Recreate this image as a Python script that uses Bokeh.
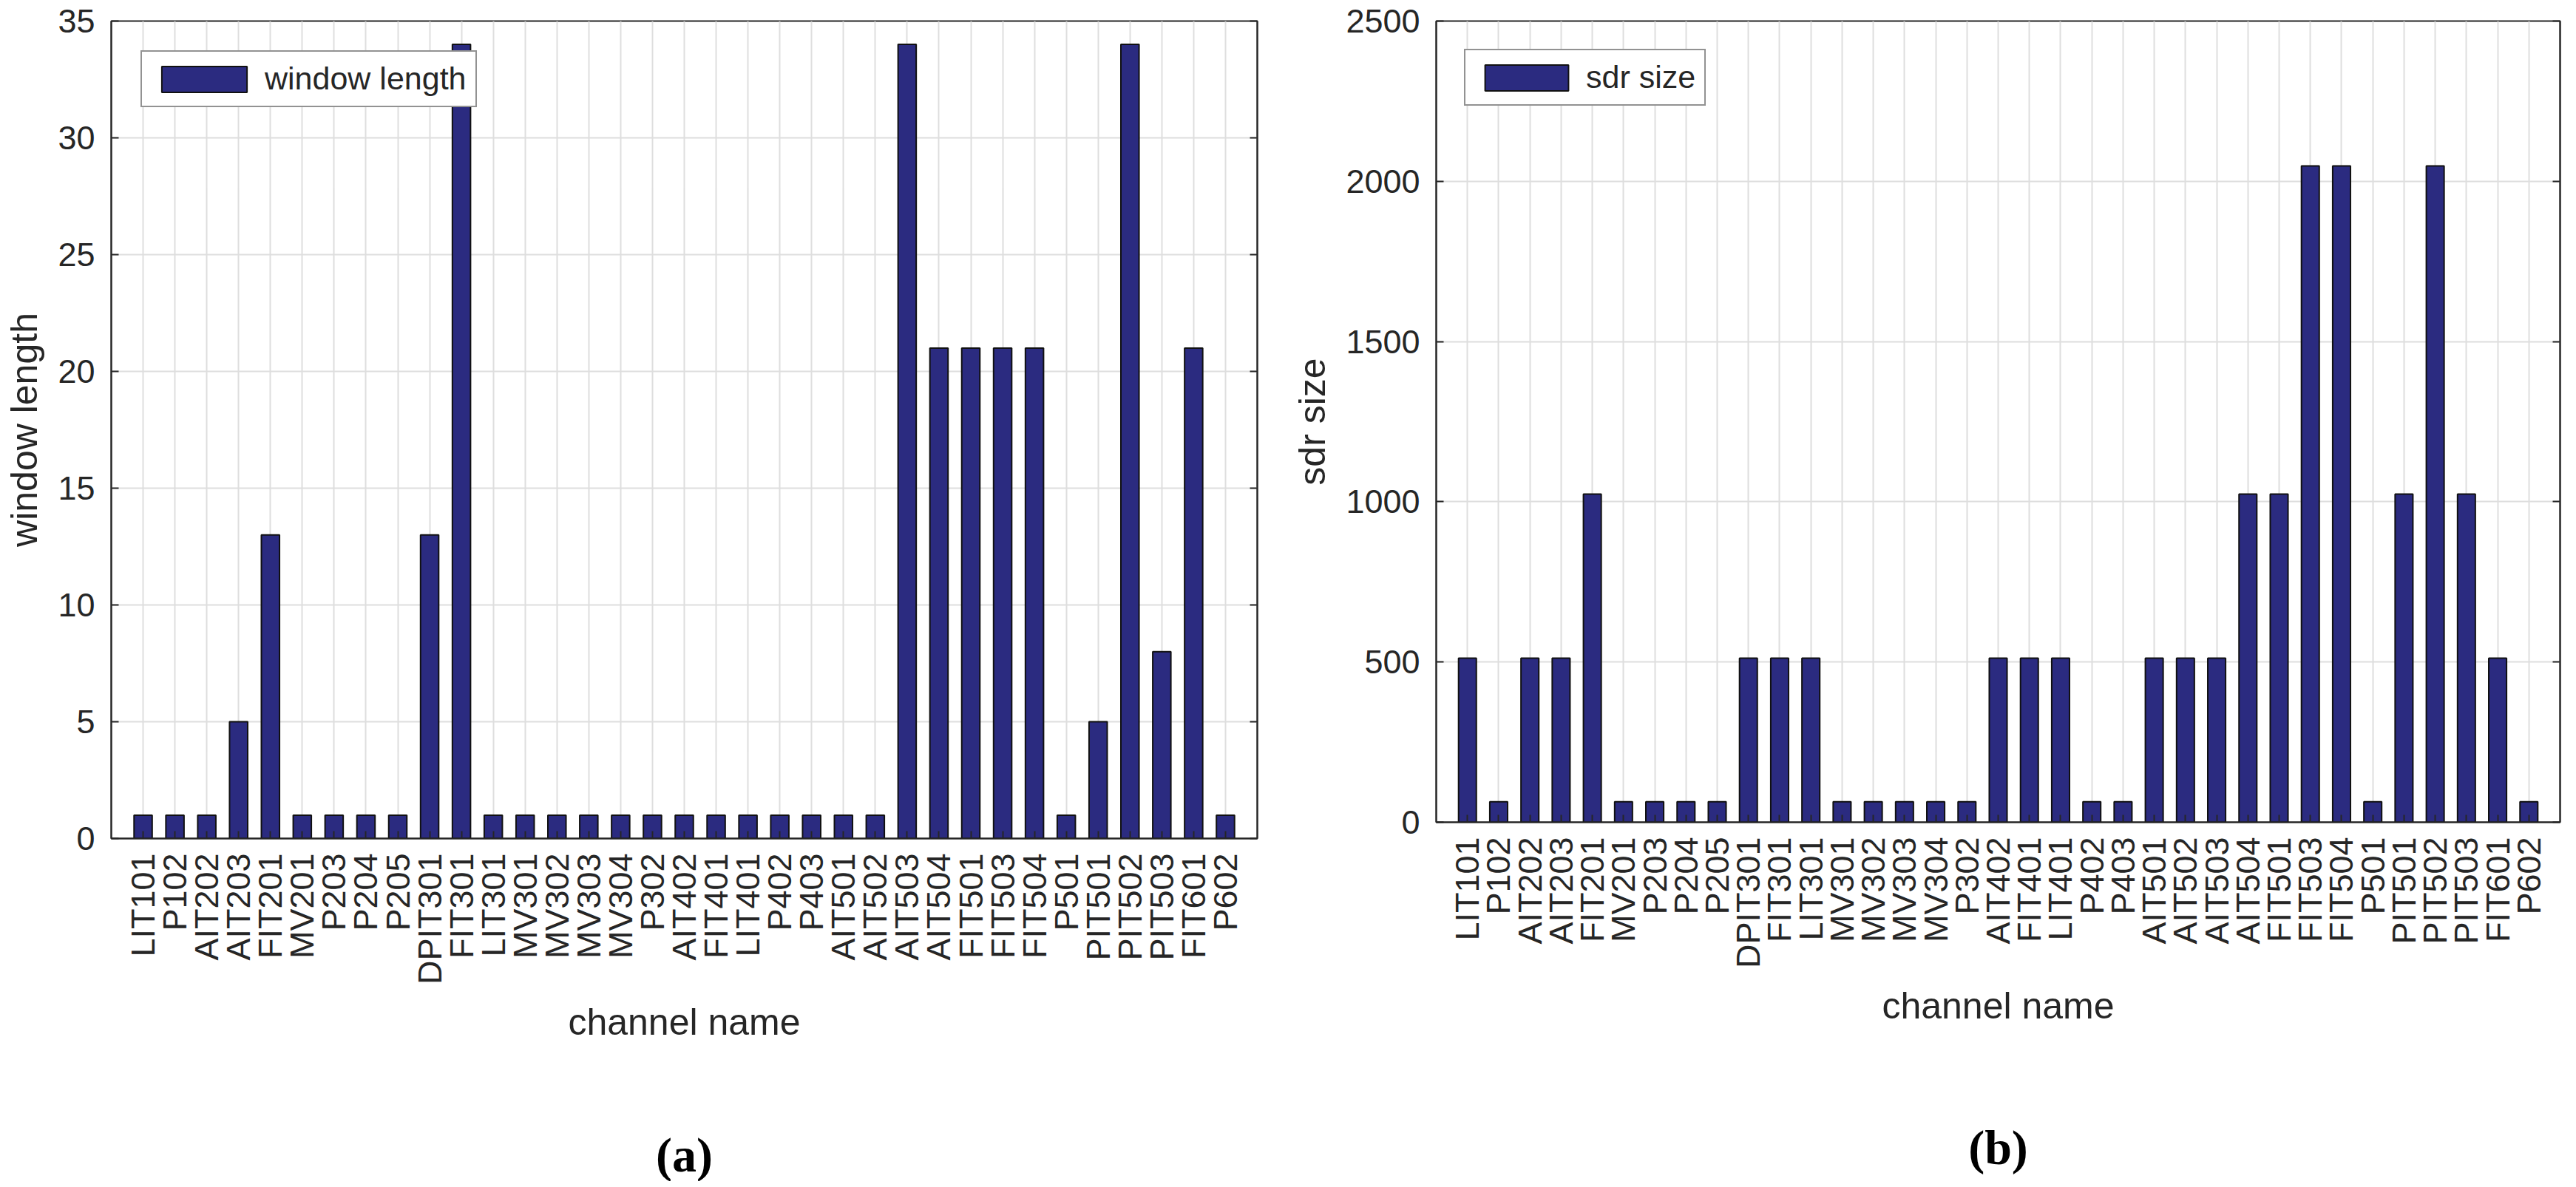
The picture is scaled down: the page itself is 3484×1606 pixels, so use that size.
from bokeh.plotting import figure
from bokeh.models import Range1d, FixedTicker, LinearAxis, Legend, LegendItem, ColumnDataSource
from bokeh.layouts import row
from bokeh.embed import file_html
from bokeh.resources import INLINE
import math

channels = ["LIT101", "P102", "AIT202", "AIT203", "FIT201", "MV201", "P203", "P204", "P205",
            "DPIT301", "FIT301", "LIT301", "MV301", "MV302", "MV303", "MV304", "P302",
            "AIT402", "FIT401", "LIT401", "P402", "P403", "AIT501", "AIT502", "AIT503",
            "AIT504", "FIT501", "FIT503", "FIT504", "P501", "PIT501", "PIT502", "PIT503",
            "FIT601", "P602"]

window_length = [1, 1, 1, 5, 13, 1, 1, 1, 1,
                 13, 34, 1, 1, 1, 1, 1, 1,
                 1, 1, 1, 1, 1, 1, 1, 34,
                 21, 21, 21, 21, 1, 5, 34, 8,
                 21, 1]

sdr_size = [512, 64, 512, 512, 1024, 64, 64, 64, 64,
            512, 512, 512, 64, 64, 64, 64, 64,
            512, 512, 512, 64, 64, 512, 512, 512,
            1024, 1024, 2048, 2048, 64, 1024, 2048, 1024,
            512, 64]

a_yticks = [0, 5, 10, 15, 20, 25, 30, 35]
b_yticks = [0, 500, 1000, 1500, 2000, 2500]

x_label = "channel name"
a_ylabel = "window length"
b_ylabel = "sdr size"

BAR = "#2b2b80"
AX = "#262626"
GRID = "#dedede"
FONT = "Liberation Sans"
SERIF = "Liberation Serif"


def make_panel(values, yticks, ylabel, legend_label, caption,
               frame_w, frame_h, bl, br, bt, bb, legend_margin, glyph_w, cap_standoff):
    n = len(channels)
    pos = list(range(1, n + 1))
    src = ColumnDataSource(dict(x=pos, top=values, name=channels))
    p = figure(frame_width=frame_w, frame_height=frame_h,
               min_border_left=bl, min_border_right=br, min_border_top=bt, min_border_bottom=bb,
               x_range=Range1d(0, n + 1), y_range=Range1d(yticks[0], yticks[-1]),
               output_backend="svg", toolbar_location=None, tools="")
    r = p.vbar(x="x", top="top", width=0.57, source=src, fill_color=BAR,
               line_color="#111111", line_width=2)

    p.xaxis.ticker = FixedTicker(ticks=pos)
    p.xaxis.major_label_overrides = {i: c for i, c in zip(pos, channels)}
    p.xaxis.major_label_orientation = math.pi / 2
    p.yaxis.ticker = FixedTicker(ticks=yticks)
    p.xgrid.ticker = FixedTicker(ticks=pos)

    for ax in (p.xaxis[0], p.yaxis[0]):
        ax.axis_line_color = AX
        ax.axis_line_width = 2
        ax.major_tick_in = 10
        ax.major_tick_out = 0
        ax.major_tick_line_color = AX
        ax.major_tick_line_width = 2
        ax.minor_tick_line_color = None
        ax.major_label_text_font = FONT
        ax.major_label_text_font_size = "45px"
        ax.major_label_text_color = AX
        ax.axis_label_text_font = FONT
        ax.axis_label_text_font_size = "50px"
        ax.axis_label_text_font_style = "normal"
        ax.axis_label_text_color = AX
    p.xaxis.major_label_standoff = 20
    p.yaxis.major_label_standoff = 22
    p.xaxis.axis_label = x_label
    p.yaxis.axis_label = ylabel
    p.xaxis.axis_label_standoff = 20
    p.yaxis.axis_label_standoff = 14

    right = LinearAxis(ticker=FixedTicker(ticks=yticks), major_label_text_font_size="1px",
                       major_label_text_color=None,
                       major_label_standoff=0, major_tick_in=10, major_tick_out=0,
                       minor_tick_line_color=None, axis_line_color=AX, axis_line_width=2,
                       major_tick_line_color=AX, major_tick_line_width=2)
    p.add_layout(right, "right")

    # caption below everything, as the label of a bare extra axis
    cap = LinearAxis(ticker=FixedTicker(ticks=[]), axis_line_color=None,
                     major_tick_line_color=None, minor_tick_line_color=None,
                     major_tick_in=0, major_tick_out=0, major_label_standoff=0,
                     axis_label=caption, axis_label_standoff=cap_standoff,
                     axis_label_text_font=SERIF, axis_label_text_font_size="66px",
                     axis_label_text_font_style="bold", axis_label_text_color="black")
    p.add_layout(cap, "below")

    p.xgrid.grid_line_color = GRID
    p.ygrid.grid_line_color = GRID
    p.xgrid.grid_line_width = 2
    p.ygrid.grid_line_width = 2
    p.outline_line_color = AX
    p.outline_line_width = 2
    p.background_fill_color = "white"
    p.border_fill_color = "white"

    leg = Legend(items=[LegendItem(label=legend_label, renderers=[r])], location="top_left")
    leg.margin = legend_margin
    leg.padding = 12
    leg.glyph_width = glyph_w
    leg.glyph_height = 44
    leg.label_height = 44
    leg.label_standoff = 10
    leg.label_text_font = FONT
    leg.label_text_font_size = "43px"
    leg.label_text_color = AX
    leg.border_line_color = AX
    leg.border_line_width = 2
    leg.background_fill_color = "white"
    leg.background_fill_alpha = 1.0
    leg.level = "underlay"
    p.add_layout(leg)
    return p


pa = make_panel(window_length, a_yticks, a_ylabel, "window length", "(a)",
                1550, 1106, 150, 34, 25, 459, 40, 144, 111)
pb = make_panel(sdr_size, b_yticks, b_ylabel, "sdr size", "(b)",
                1520, 1084, 208, 6, 28, 478, 38, 141, 123)

layout = row(pa, pb)
open("out.html", "w").write(file_html(layout, INLINE))
